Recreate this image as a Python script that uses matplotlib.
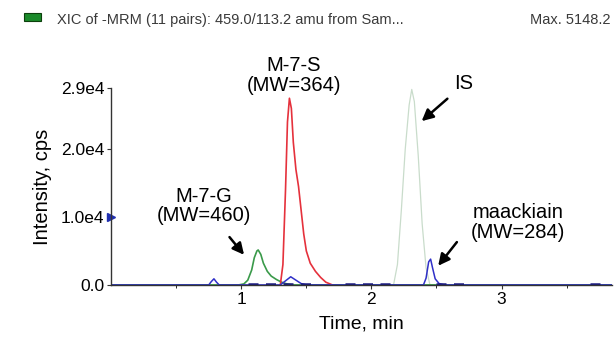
import matplotlib
matplotlib.use("Agg")
import matplotlib.pyplot as plt
from matplotlib.patches import Rectangle

plt.rcParams['font.family'] = ['Liberation Sans', 'DejaVu Sans']

nan = float('nan')

# chromatogram traces (time in min, intensity in cps)
green_t = [0.0, 0.98, 1.02, 1.05, 1.08, 1.10, 1.12, 1.13, 1.15, 1.17, 1.20, 1.23, 1.27, 1.31, 1.35, 1.40, 3.85]
green_y = [0, 0, 150, 700, 2200, 4000, 5000, 5148, 4500, 3200, 2000, 1300, 800, 400, 150, 0, 0]

red_t = [1.30, 1.32, 1.34, 1.355, 1.37, 1.385, 1.40, 1.42, 1.44, 1.46, 1.48, 1.50, 1.53, 1.57, 1.61, 1.65, 1.70]
red_y = [0, 3000, 14000, 24000, 27500, 26000, 21000, 17000, 14500, 11000, 7500, 5000, 3200, 2000, 1100, 400, 0]

is_t = [2.17, 2.20, 2.23, 2.26, 2.29, 2.31, 2.33, 2.36, 2.39, 2.42, 2.45]
is_y = [0, 3000, 11000, 20000, 26500, 28800, 27000, 19000, 9000, 2500, 0]

blue_t = [0.0, 0.75, 0.77, 0.79, 0.81, 0.83, 1.30, 1.34, 1.38, 1.42, 1.46, 1.50,
          2.40, 2.42, 2.44, 2.455, 2.47, 2.49, 2.52, 2.56, 3.85]
blue_y = [0, 0, 500, 900, 400, 0, 0, 600, 1200, 700, 200, 0,
          0, 1000, 3400, 3800, 2500, 900, 200, 0, 0]

# noisy baseline pieces of the dark trace
base_t = [1.05, 1.55, nan, 1.80, 2.20, nan, 2.50, 2.72, nan, 3.68, 3.80]
base_y = [120, 120, nan, 120, 120, nan, 120, 120, nan, 150, 150]

ytick_vals = [0, 10000, 20000, 29000]
ytick_labels = ['0.0', '1.0e4', '2.0e4', '2.9e4']
xtick_vals = [1, 2, 3]
xminor_vals = [0.5, 1.5, 2.5, 3.5]

fig = plt.figure(figsize=(6.14, 3.4), dpi=100)
ax = fig.add_axes([0.181, 0.162, 0.816, 0.579])

ax.plot(is_t, is_y, color='#c9dccb', lw=0.9)
ax.plot(green_t, green_y, color='#3a9a4a', lw=1.2)
ax.plot(red_t, red_y, color='#e5313c', lw=1.2)
ax.plot(blue_t, blue_y, color='#3030c8', lw=1.1)
ax.plot(base_t, base_y, color='#1a1a80', lw=1.8, ls=(0, (4, 3)))

ax.set_xlim(0, 3.85)
ax.set_ylim(0, 29000)
ax.set_yticks(ytick_vals)
ax.set_yticklabels(ytick_labels)
ax.set_xticks(xtick_vals)
ax.set_xticks(xminor_vals, minor=True)
ax.tick_params(axis='both', labelsize=12.5, length=3, width=0.8, color='#333333', pad=2)
ax.tick_params(axis='x', which='minor', length=2)
for s in ['top', 'right']:
    ax.spines[s].set_visible(False)
for s in ['left', 'bottom']:
    ax.spines[s].set_color('#333333')
    ax.spines[s].set_linewidth(1.0)

ax.set_xlabel('Time, min', fontsize=14, labelpad=6)
ax.set_ylabel('Intensity, cps', fontsize=14.5, labelpad=6)

# marker on the y axis
ax.plot([0], [10000], marker='>', color='#2030b0', markersize=6, clip_on=False)

arrow = dict(arrowstyle='-|>', color='black', lw=1.8, mutation_scale=17)
ax.text(0.71, 11630, 'M-7-G\n(MW=460)', ha='center', va='center', fontsize=14.5,
        linespacing=1.05)
ax.annotate('', xy=(1.035, 4120), xytext=(0.896, 7360), arrowprops=arrow)
ax.text(1.405, 30800, 'M-7-S\n(MW=364)', ha='center', va='center', fontsize=14.5,
        linespacing=1.05, clip_on=False)
ax.text(2.71, 29600, 'IS', ha='center', va='center', fontsize=14.5, clip_on=False)
ax.annotate('', xy=(2.37, 23860), xytext=(2.60, 27700), arrowprops=arrow)
ax.text(3.125, 9200, 'maackiain\n(MW=284)', ha='center', va='center', fontsize=14.5,
        linespacing=1.05)
ax.annotate('', xy=(2.50, 2500), xytext=(2.67, 6630), arrowprops=arrow)

# header line
fig.patches.append(Rectangle((0.039, 0.938), 0.028, 0.0235, transform=fig.transFigure,
                             facecolor='#1a8a2a', edgecolor='#0c400c', lw=0.8))
fig.text(0.093, 0.941, 'XIC of -MRM (11 pairs): 459.0/113.2 amu from Sam...',
         fontsize=10.5, color='#3a3a3a', va='center')
fig.text(0.995, 0.941, 'Max. 5148.2', fontsize=10.5, color='#3a3a3a', va='center', ha='right')

fig.savefig('out.png', dpi=100)
